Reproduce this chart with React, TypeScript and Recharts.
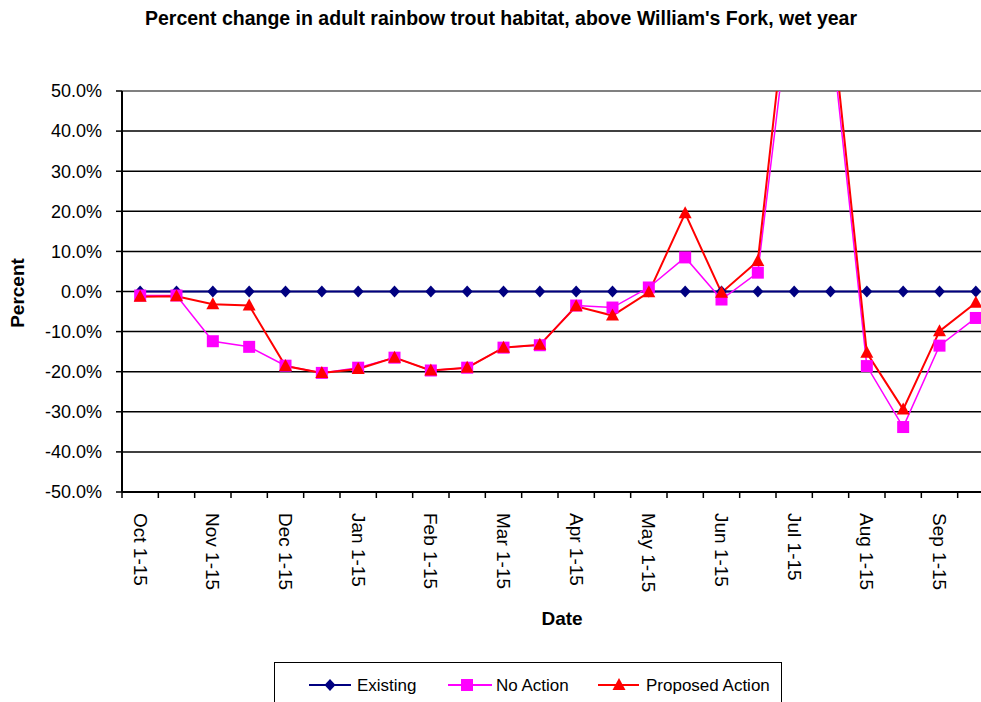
import { LineChart, Line, XAxis, YAxis, CartesianGrid, ReferenceLine, Label } from 'recharts'

const categories = [
  'Oct 1-15', 'Oct 16-31', 'Nov 1-15', 'Nov 16-30', 'Dec 1-15', 'Dec 16-31',
  'Jan 1-15', 'Jan 16-31', 'Feb 1-15', 'Feb 16-28', 'Mar 1-15', 'Mar 16-31',
  'Apr 1-15', 'Apr 16-30', 'May 1-15', 'May 16-31', 'Jun 1-15', 'Jun 16-30',
  'Jul 1-15', 'Jul 16-31', 'Aug 1-15', 'Aug 16-31', 'Sep 1-15', 'Sep 16-30',
]

const existing = [0, 0, 0, 0, 0, 0, 0, 0, 0, 0, 0, 0, 0, 0, 0, 0, 0, 0, 0, 0, 0, 0, 0, 0]

const noAction = [
  -1.0, -1.0, -12.4, -13.8, -18.5, -20.3, -19.0, -16.5, -19.7, -19.0, -14.0, -13.4,
  -3.5, -4.0, 1.0, 8.5, -2.0, 4.7, 80, 66, -18.6, -33.8, -13.5, -6.6,
]

const proposedAction = [
  -1.3, -1.2, -3.2, -3.5, -18.6, -20.3, -19.3, -16.5, -19.7, -19.0, -14.0, -13.3,
  -3.7, -6.0, -0.2, 19.5, -0.3, 7.6, 89, 71, -15.3, -29.4, -9.9, -2.8,
]

const yTicks = [-50, -40, -30, -20, -10, 0, 10, 20, 30, 40, 50]

const data = categories.map((c, i) => ({
  cat: c,
  existing: existing[i],
  noAction: noAction[i],
  proposed: proposedAction[i],
}))

const FONT = '"Liberation Sans", Arial, sans-serif'
const CHART_W = 1000
const CHART_H = 702
const Y_AXIS_W = 122
const MARGIN_R = 6
const X_AXIS_H = 210
const AXIS_Y = CHART_H - X_AXIS_H
const HALF_BAND = (CHART_W - Y_AXIS_W - MARGIN_R) / categories.length / 2

const NAVY = '#000080'
const MAGENTA = '#FF00FF'
const RED = '#FF0000'

const diamond = (cx: number, cy: number) =>
  `M${cx},${cy - 6}L${cx + 5.5},${cy}L${cx},${cy + 6}L${cx - 5.5},${cy}Z`
const triangle = (cx: number, cy: number) =>
  `M${cx},${cy - 7}L${cx + 6.5},${cy + 5}L${cx - 6.5},${cy + 5}Z`

const DiamondDot = (p: any) =>
  p.cx == null || p.cy == null ? null : <path key={p.index} d={diamond(p.cx, p.cy)} fill={NAVY} />
const SquareDot = (p: any) =>
  p.cx == null || p.cy == null ? null : (
    <rect key={p.index} x={p.cx - 6} y={p.cy - 6} width={12} height={12} fill={MAGENTA} />
  )
const TriangleDot = (p: any) =>
  p.cx == null || p.cy == null ? null : <path key={p.index} d={triangle(p.cx, p.cy)} fill={RED} />

// labels only on every other category, tick marks on every band edge
const DateTick = (props: any) => {
  const { x, index, payload } = props
  return (
    <g>
      <line x1={x - HALF_BAND} x2={x - HALF_BAND} y1={AXIS_Y} y2={AXIS_Y + 6} stroke="#000" strokeWidth={1.5} />
      {index % 2 === 0 && (
        <text
          transform={`translate(${x},${AXIS_Y + 21}) rotate(90)`}
          dy="0.35em"
          textAnchor="start"
          fontSize={19}
          fontFamily={FONT}
          fill="#000"
        >
          {payload.value}
        </text>
      )}
    </g>
  )
}

export default function App() {
  return (
    <div style={{ position: 'fixed', left: 0, top: 0, width: 981, height: 702, overflow: 'hidden', background: '#fff' }}>
      <div
        style={{
          position: 'absolute', left: 0, top: 7, width: 1002, textAlign: 'center',
          fontFamily: FONT, fontWeight: 'bold', fontSize: 19.5, lineHeight: '22px', color: '#000',
        }}
      >
        Percent change in adult rainbow trout habitat, above William's Fork, wet year
      </div>

      <LineChart
        width={CHART_W}
        height={CHART_H}
        data={data}
        margin={{ top: 91, right: MARGIN_R, left: 0, bottom: 0 }}
        style={{ position: 'absolute', left: 0, top: 0 }}
      >
        <CartesianGrid horizontal vertical={false} stroke="#000" strokeWidth={1.5} />
        <ReferenceLine y={50} stroke="#808080" strokeWidth={2} />
        <XAxis
          dataKey="cat"
          scale="band"
          interval={0}
          height={X_AXIS_H}
          axisLine={{ stroke: '#000', strokeWidth: 2 }}
          tickLine={false}
          tick={<DateTick />}
        >
          <Label
            content={() => (
              <text x={562} y={620} textAnchor="middle" dominantBaseline="middle"
                fontFamily={FONT} fontWeight="bold" fontSize={19} fill="#000">
                Date
              </text>
            )}
          />
        </XAxis>
        <YAxis
          type="number"
          domain={[-50, 50]}
          ticks={yTicks}
          allowDataOverflow
          width={Y_AXIS_W}
          tickFormatter={(v: number) => `${v.toFixed(1)}%`}
          tick={{ fontSize: 18, fill: '#000', fontFamily: FONT }}
          tickSize={6}
          tickMargin={14}
          axisLine={{ stroke: '#000', strokeWidth: 2 }}
          tickLine={{ stroke: '#000', strokeWidth: 1.5 }}
        >
          <Label
            content={() => (
              <text transform="translate(19,293) rotate(-90)" textAnchor="middle" dominantBaseline="middle"
                fontFamily={FONT} fontWeight="bold" fontSize={19} fill="#000">
                Percent
              </text>
            )}
          />
        </YAxis>
        <Line
          dataKey="existing"
          stroke={NAVY}
          strokeWidth={2}
          dot={<DiamondDot />}
          activeDot={false}
          isAnimationActive={false}
        />
        <Line
          dataKey="noAction"
          stroke={MAGENTA}
          strokeWidth={1.5}
          dot={<SquareDot />}
          activeDot={false}
          isAnimationActive={false}
        />
        <Line
          dataKey="proposed"
          stroke={RED}
          strokeWidth={2}
          dot={<TriangleDot />}
          activeDot={false}
          isAnimationActive={false}
        />
      </LineChart>

      {/* legend box, bottom edge runs off the page like the original */}
      <div
        style={{
          position: 'absolute', left: 274, top: 662, width: 508, height: 60,
          border: '1px solid #000', boxSizing: 'border-box', fontFamily: FONT, fontSize: 17,
        }}
      >
        <svg width={508} height={60} style={{ position: 'absolute', left: -1, top: -1 }}>
          <line x1={35} x2={77} y1={23} y2={23} stroke={NAVY} strokeWidth={2} />
          <path d={diamond(56, 23)} fill={NAVY} />
          <text x={83} y={23} dy="0.35em" fontSize={17} fontFamily={FONT}>Existing</text>

          <line x1={174} x2={218} y1={23} y2={23} stroke={MAGENTA} strokeWidth={2} />
          <rect x={187} y={17} width={12} height={12} fill={MAGENTA} />
          <text x={222} y={23} dy="0.35em" fontSize={17} fontFamily={FONT}>No Action</text>

          <line x1={324} x2={365} y1={23} y2={23} stroke={RED} strokeWidth={2} />
          <path d={triangle(345, 23)} fill={RED} />
          <text x={372} y={23} dy="0.35em" fontSize={17} fontFamily={FONT}>Proposed Action</text>
        </svg>
      </div>
    </div>
  )
}
